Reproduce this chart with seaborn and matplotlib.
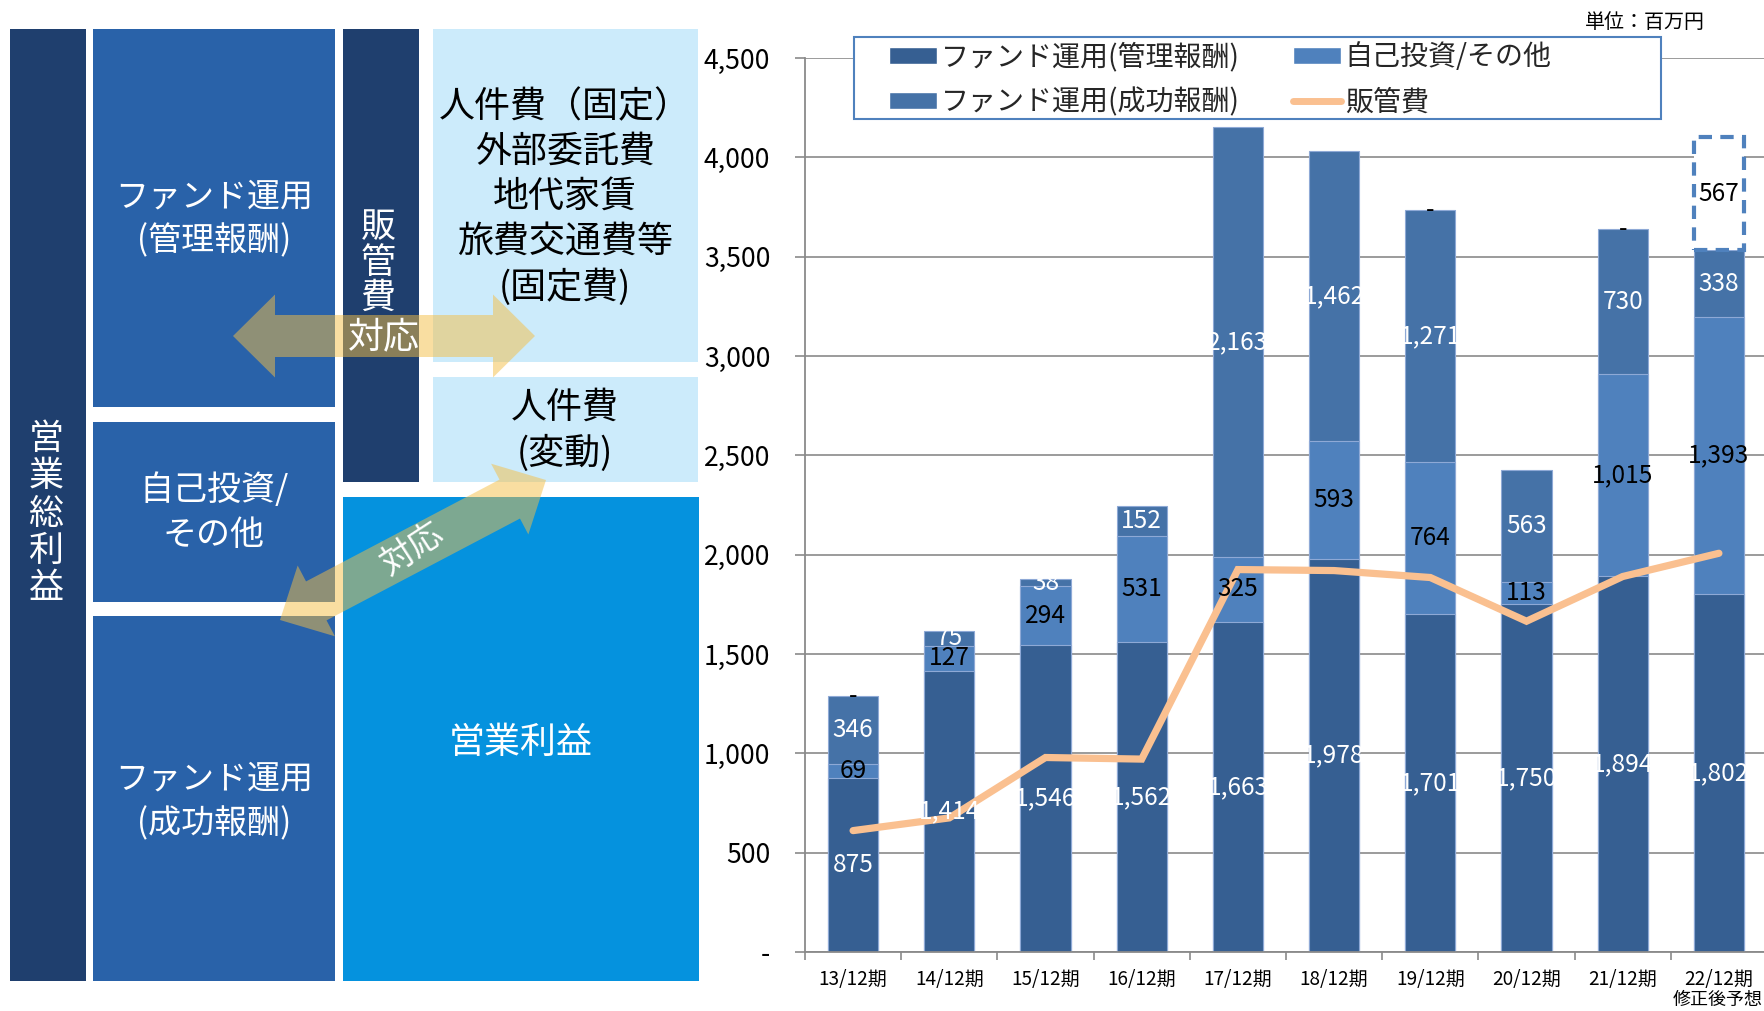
import numpy as np
import pandas as pd
import matplotlib
matplotlib.use("Agg")
import matplotlib.pyplot as plt
import seaborn as sns
from matplotlib.patches import Rectangle, Polygon, Patch
from matplotlib.lines import Line2D

# ---------------- data ----------------
periods = ["13/12期", "14/12期", "15/12期", "16/12期", "17/12期",
           "18/12期", "19/12期", "20/12期", "21/12期", "22/12期"]
mgmt_fee = [875, 1414, 1546, 1562, 1663, 1978, 1701, 1750, 1894, 1802]
self_invest = [69, 127, 294, 531, 325, 593, 764, 113, 1015, 1393]
success_fee = [346, 75, 38, 152, 2163, 1462, 1271, 563, 730, 338]
forecast_add = [0, None, None, None, None, None, 0, None, 0, 567]
sga = [611, 675, 979, 971, 1925, 1920, 1885, 1665, 1890, 2007]
y_ticks = [0, 500, 1000, 1500, 2000, 2500, 3000, 3500, 4000, 4500]
y_tick_labels = ["-", "500", "1,000", "1,500", "2,000", "2,500",
                 "3,000", "3,500", "4,000", "4,500"]
legend_labels = ["ファンド運用(管理報酬)", "ファンド運用(成功報酬)",
                 "自己投資/その他", "販管費"]
unit_label = "単位：百万円"
forecast_note = "修正後予想"

# ---------------- style ----------------
sns.set_theme(style="white")
plt.rcParams["font.family"] = ["Noto Sans CJK JP", "DejaVu Sans"]

C_MGMT = "#365F92"
C_SELF = "#4F81BD"
C_SUCC = "#4572A7"
C_SGA = "#FAC090"
C_GRID = "#8A8A8A"

W, H = 1765, 1011
DPI = 100
fig = plt.figure(figsize=(W / DPI, H / DPI), dpi=DPI)
PT = 0.72  # pt per px


def fx(px):
    return px / W


def fy(py):
    return 1 - py / H


# ---------------- left diagram ----------------
dax = fig.add_axes([0, 0, 1, 1], zorder=0)
dax.set_xlim(0, W)
dax.set_ylim(H, 0)
dax.axis("off")
dax.patch.set_alpha(0)

NAVY = "#1F3F6E"
MID = "#2962A9"
BRIGHT = "#0592DE"
LIGHT = "#CCEBFB"

boxes = [
    (10, 29, 86, 981, NAVY),      # 営業総利益
    (93, 29, 335, 407, MID),      # 管理報酬
    (93, 422, 335, 602, MID),     # 自己投資
    (93, 616, 335, 981, MID),     # 成功報酬
    (343, 29, 419, 482, NAVY),    # 販管費
    (433, 29, 698, 362, LIGHT),   # 固定費
    (433, 377, 698, 482, LIGHT),  # 変動
    (343, 497, 699, 981, BRIGHT), # 営業利益
]
for x0, y0, x1, y1, c in boxes:
    dax.add_patch(Rectangle((x0, y0), x1 - x0, y1 - y0, facecolor=c,
                            edgecolor="none", zorder=1))


def txt(x, y, s, size_px, color, **kw):
    dax.text(x, y, s, fontsize=size_px * PT, color=color, ha="center",
             va="center", zorder=kw.pop("zorder", 1.5), **kw)


# vertical labels
for ch, y in zip("営業総利益", [439, 476, 514, 551, 588]):
    txt(46, y, ch, 35, "white")
for ch, y in zip("販管費", [227, 263, 298]):
    txt(378, y, ch, 35, "white")

txt(214, 197, "ファンド運用", 33, "white")
txt(214, 241, "(管理報酬)", 33, "white")
txt(214, 491, "自己投資/", 34, "white")
txt(214, 536, "その他", 34, "white")
txt(214, 779, "ファンド運用", 33, "white")
txt(214, 824, "(成功報酬)", 33, "white")
for s, y in zip(["人件費（固定）", "外部委託費", "地代家賃", "旅費交通費等", "(固定費)"],
                [107, 152, 197, 242, 287]):
    txt(565, y, s, 36, "black")
txt(565, 408, "人件費", 36, "black")
txt(565, 453, "(変動)", 36, "black")
txt(521, 743, "営業利益", 36, "white")


def double_arrow(p0, p1, sw, hw, hl):
    p0 = np.array(p0, float)
    p1 = np.array(p1, float)
    d = p1 - p0
    u = d / np.linalg.norm(d)
    n = np.array([-u[1], u[0]])
    b0 = p0 + u * hl
    b1 = p1 - u * hl
    pts = [p0, b0 + n * hw, b0 + n * sw, b1 + n * sw, b1 + n * hw, p1,
           b1 - n * hw, b1 - n * sw, b0 - n * sw, b0 - n * hw]
    return Polygon(pts, closed=True, facecolor="#F5BF45", alpha=0.5,
                   edgecolor="none", zorder=2)


dax.add_patch(double_arrow((233, 336), (535, 336), 21, 41.5, 42))
dax.add_patch(double_arrow((280, 620), (546, 480), 22, 40, 41))
txt(384, 337, "対応", 36, "white", zorder=3)
txt(413, 549, "対応", 34, "white", zorder=3, rotation=33)

# ---------------- chart ----------------
ax = fig.add_axes([fx(805), fy(952), fx(1767) - fx(805), fy(58) - fy(952)],
                  zorder=1)
ax.patch.set_facecolor("white")

df = pd.DataFrame({"period": periods, "mgmt": mgmt_fee,
                   "self": self_invest, "succ": success_fee, "sga": sga})
df["lvl2"] = df["mgmt"] + df["self"]
df["total"] = df["lvl2"] + df["succ"]

bar_kw = dict(order=periods, width=0.52, saturation=1, errorbar=None,
              edgecolor="#8EA9D6", linewidth=0.8, ax=ax)
sns.barplot(data=df, x="period", y="total", color=C_SUCC, **bar_kw)
total_bars = list(ax.containers[-1])
sns.barplot(data=df, x="period", y="lvl2", color=C_SELF, **bar_kw)
sns.barplot(data=df, x="period", y="mgmt", color=C_MGMT, **bar_kw)
for p in ax.patches:
    p.set_zorder(2)

# forecast addition (dashed box)
for i, v in enumerate(forecast_add):
    if v:
        ax.bar(periods[i], v, bottom=df["total"][i], width=0.52,
               facecolor="white", edgecolor=C_SELF, linewidth=3,
               linestyle=(0, (3.2, 2.0)), zorder=2.5)

sns.lineplot(data=df, x="period", y="sga", color=C_SGA, linewidth=5.2,
             sort=False, legend=False, ax=ax, zorder=3)
for ln in ax.lines:
    ln.set_solid_capstyle("round")
    ln.set_solid_joinstyle("miter")

LBL = 24.5 * PT
for i in range(len(periods)):
    m, s, c = mgmt_fee[i], self_invest[i], success_fee[i]
    t = ax.text(i, m / 2, f"{m:,}", color="white", fontsize=LBL,
                ha="center", va="center", zorder=4)
    t.set_clip_path(total_bars[i])
    ax.text(i, m + s / 2, f"{s:,}", color="black", fontsize=LBL,
            ha="center", va="center", zorder=4)
    t = ax.text(i, m + s + c / 2, f"{c:,}", color="white", fontsize=LBL,
                ha="center", va="center", zorder=4)
    t.set_clip_path(total_bars[i])
    fa = forecast_add[i]
    if fa is not None:
        top = m + s + c
        if fa == 0:
            ax.text(i, top, "-", color="black", fontsize=LBL, ha="center",
                    va="center", zorder=4)
        else:
            ax.text(i, top + fa / 2, f"{fa:,}", color="black", fontsize=LBL,
                    ha="center", va="center", zorder=4)

ax.set_xlim(-0.5, len(periods) - 0.5)
ax.set_ylim(0, 4500)
ax.set_yticks(y_ticks)
ax.set_yticklabels(y_tick_labels)
ax.set_xlabel("")
ax.set_ylabel("")
ax.yaxis.grid(True, color=C_GRID, linewidth=1.2)
ax.set_axisbelow(True)
for sp in ["top", "right"]:
    ax.spines[sp].set_visible(False)
for sp in ["left", "bottom"]:
    ax.spines[sp].set_color(C_GRID)
    ax.spines[sp].set_linewidth(1.3)
ax.tick_params(axis="y", which="major", length=7, width=1.2, color=C_GRID,
               pad=18, labelsize=26.5 * PT, labelcolor="black", left=True)
ax.set_xticks(np.arange(-0.5, len(periods), 1.0), minor=True)
ax.tick_params(axis="x", which="minor", length=6, width=1.2, color=C_GRID,
               bottom=True)
ax.tick_params(axis="x", which="major", length=0, pad=12,
               labelsize=19 * PT, labelcolor="black")

# legend with a separate frame
handles = [Patch(facecolor=C_MGMT), Patch(facecolor=C_SUCC),
           Patch(facecolor=C_SELF),
           Line2D([], [], color=C_SGA, linewidth=5, solid_capstyle="round")]
leg = ax.legend(handles, legend_labels, ncol=2, frameon=False,
                loc="upper left", bbox_to_anchor=(fx(889), fy(42)),
                bbox_transform=fig.transFigure, borderpad=0,
                borderaxespad=0, fontsize=28 * PT, handlelength=1.7,
                handleheight=0.55, handletextpad=0.15, columnspacing=1.9,
                labelspacing=0.55)
leg.set_zorder(6)
ax.add_patch(Rectangle((fx(854), fy(119)), fx(1661) - fx(854),
                       fy(37) - fy(119), transform=fig.transFigure,
                       facecolor="white", edgecolor=C_SELF, linewidth=1.5,
                       zorder=5, clip_on=False))

fig.text(fx(1705), fy(22), unit_label, ha="right", va="center",
         fontsize=20 * PT, color="black")
fig.text(fx(1718), fy(1000), forecast_note, ha="center", va="center",
         fontsize=18 * PT, color="black")

fig.savefig("out.png", dpi=DPI)
